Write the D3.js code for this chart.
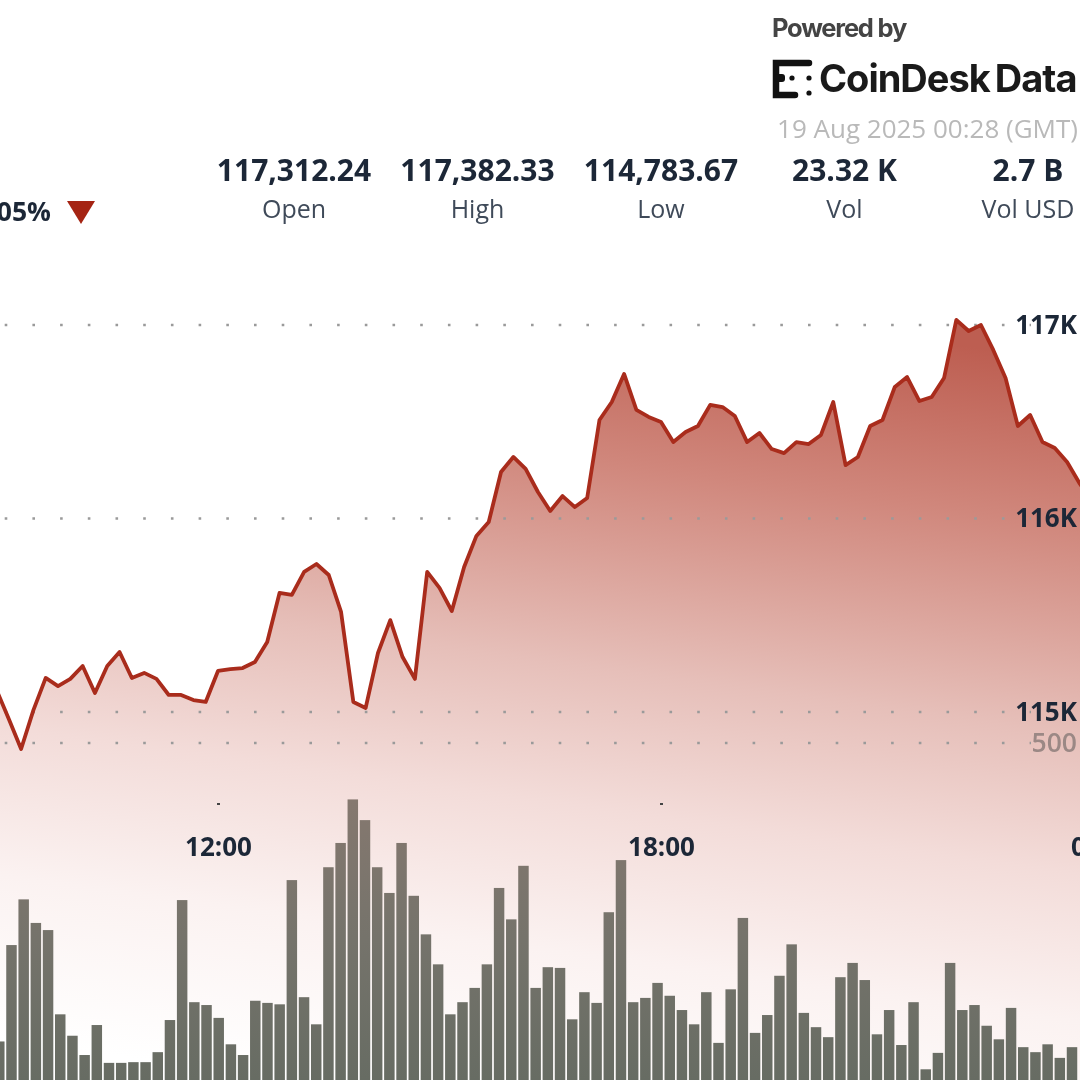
<!DOCTYPE html>
<html>
<head>
<meta charset="utf-8">
<script src="https://cdn.jsdelivr.net/npm/d3@7"></script>
<style>
html, body { margin: 0; padding: 0; background: #fff; overflow: hidden; }
svg { display: block; filter: blur(0.6px); }
text { font-family: "Open Sans", sans-serif; }
</style>
</head>
<body>
<svg id="chart" width="1080" height="1080"></svg>
<script>
// price every 10 minutes, starting 09:00
var startTime = '2025-08-18T09:00:00Z';
var prices = [115114, 114964, 114809, 115010, 115176, 115134, 115171, 115238, 115098, 115238,
	115310, 115176, 115202, 115171, 115088, 115088, 115062, 115052, 115212, 115222,
	115227, 115258, 115362, 115615, 115605, 115724, 115765, 115708, 115517, 115052,
	115021, 115305, 115475, 115284, 115171, 115724, 115641, 115522, 115749, 115910,
	115982, 116240, 116318, 116256, 116137, 116039, 116116, 116059, 116106, 116509,
	116602, 116747, 116561, 116525, 116499, 116395, 116447, 116478, 116587, 116576,
	116530, 116395, 116442, 116359, 116338, 116395, 116385, 116432, 116602, 116276,
	116318, 116478, 116509, 116680, 116731, 116607, 116628, 116726, 117026, 116969,
	117000, 116871, 116726, 116478, 116535, 116395, 116364, 116292, 116183, 116096];

var volumes = [82, 217, 281, 248, 238, 120, 90, 63, 105, 52,
	52, 53, 53, 67, 112, 280, 137, 133, 115, 78,
	63, 139, 136, 134, 308, 144, 106, 326, 360, 421,
	392, 326, 290, 360, 286, 232, 190, 120, 137, 157,
	190, 297, 253, 328, 157, 186, 185, 113, 151, 136,
	263, 336, 137, 143, 164, 146, 126, 106, 151, 80,
	155, 255, 94, 119, 174, 218, 122, 102, 88, 172,
	192, 168, 92, 126, 77, 137, 43, 66, 192, 126,
	133, 104, 85, 129, 74, 67, 78, 59, 74];

var priceTicks = [115000, 116000, 117000];
var volumeTicks = [500];
var timeTicks = ['2025-08-18T12:00:00Z', '2025-08-18T18:00:00Z', '2025-08-19T00:00:00Z'];

var statValues = ['117,312.24', '117,382.33', '114,783.67', '23.32 K', '2.7 B'];
var statLabels = ['Open', 'High', 'Low', 'Vol', 'Vol USD'];

var ink = '#1c2737';
var svg = d3.select('#chart');
var defs = svg.append('defs');

var x = d3.scaleUtc()
	.domain([new Date('2025-08-18T12:00:00Z'), new Date('2025-08-18T18:00:00Z')])
	.range([218, 661]);
var y = d3.scaleLinear().domain([115000, 117000]).range([712, 325]);
var yVol = d3.scaleLinear().domain([0, 500]).range([1100, 743]);
var xVol = d3.scaleBand().domain(d3.range(volumes.length))
	.range([-6.8, 1078.1]).paddingInner(0.14).paddingOuter(0.07);

var series = prices.map(function (p, i) {
	return { t: new Date(+new Date(startTime) + i * 600000), p: p };
});

// area fill, tilted a little so that the right side reads darker
var areaGrad = defs.append('linearGradient').attr('id', 'areaGrad')
	.attr('gradientUnits', 'userSpaceOnUse')
	.attr('x1', 625).attr('y1', 300).attr('x2', 515).attr('y2', 1110);
[[0, '#bd5e51'], [0.2, '#d0877c'], [0.45, '#e6bfb9'], [0.62, '#f3dcd9'], [0.8, '#fbf2f1'], [1, '#ffffff']]
	.forEach(function (s) {
		areaGrad.append('stop').attr('offset', s[0]).attr('stop-color', s[1]);
	});

var barGrad = defs.append('linearGradient').attr('id', 'barGrad')
	.attr('gradientUnits', 'userSpaceOnUse')
	.attr('x1', 0).attr('y1', 800).attr('x2', 0).attr('y2', 1080);
[[0, '#85786f'], [0.5, '#75736b'], [1, '#676c63']].forEach(function (s) {
	barGrad.append('stop').attr('offset', s[0]).attr('stop-color', s[1]);
});

var area = d3.area()
	.x(function (d) { return x(d.t); })
	.y0(1085)
	.y1(function (d) { return y(d.p); });
var line = d3.line()
	.x(function (d) { return x(d.t); })
	.y(function (d) { return y(d.p); });

// dotted grid, one row per price tick and volume tick
var gridRows = priceTicks.map(y).concat(volumeTicks.map(yVol));

svg.append('path').datum(series).attr('d', area).attr('fill', 'url(#areaGrad)');

svg.append('g').selectAll('line').data(gridRows).join('line')
	.attr('x1', 4.7).attr('x2', 1031)
	.attr('y1', function (d) { return d; }).attr('y2', function (d) { return d; })
	.attr('stroke', '#9a9a9a')
	.attr('stroke-width', 2.6)
	.attr('stroke-dasharray', '2.6 25.1');

svg.append('g').selectAll('rect').data(volumes).join('rect')
	.attr('x', function (d, i) { return xVol(i); })
	.attr('width', xVol.bandwidth())
	.attr('y', function (d) { return yVol(d); })
	.attr('height', function (d) { return 1100 - yVol(d); })
	.attr('fill', 'url(#barGrad)');

svg.append('path').datum(series).attr('d', line)
	.attr('fill', 'none')
	.attr('stroke', '#a92c1c')
	.attr('stroke-width', 3.8)
	.attr('stroke-linejoin', 'round');

// axes
var priceAxis = d3.axisRight(y).tickValues(priceTicks).tickSize(0).tickPadding(0)
	.tickFormat(function (d) { return (d / 1000) + 'K'; });
var priceG = svg.append('g').attr('transform', 'translate(1077,0)').call(priceAxis);
priceG.select('.domain').remove();
priceG.selectAll('text')
	.attr('text-anchor', 'end')
	.attr('font-size', 26).attr('font-weight', 700).attr('fill', ink)
	.style('font-family', '"Open Sans", sans-serif');

var volAxis = d3.axisRight(yVol).tickValues(volumeTicks).tickSize(0).tickPadding(0);
var volG = svg.append('g').attr('transform', 'translate(1077,0)').call(volAxis);
volG.select('.domain').remove();
volG.selectAll('text')
	.attr('text-anchor', 'end')
	.attr('font-size', 26.5).attr('font-weight', 600).attr('fill', '#9b8885')
	.style('font-family', '"Open Sans", sans-serif');

var timeAxis = d3.axisBottom(x).tickValues(timeTicks.map(function (d) { return new Date(d); }))
	.tickSize(2).tickPadding(33).tickFormat(d3.utcFormat('%H:%M'));
var timeG = svg.append('g').attr('transform', 'translate(0,803)').call(timeAxis);
timeG.select('.domain').remove();
timeG.selectAll('line').attr('stroke', '#444').attr('stroke-width', 3);
timeG.selectAll('text')
	.attr('font-size', 26).attr('font-weight', 700).attr('fill', ink)
	.style('font-family', '"Open Sans", sans-serif');

// header stats
var statX = d3.scalePoint().domain(statLabels).range([294, 1028]);
svg.append('g').selectAll('text').data(statValues).join('text')
	.attr('x', function (d, i) { return statX(statLabels[i]); })
	.attr('y', 181)
	.attr('text-anchor', 'middle')
	.attr('font-size', 30).attr('font-weight', 700).attr('fill', ink)
	.text(function (d) { return d; });
svg.append('g').selectAll('text').data(statLabels).join('text')
	.attr('x', function (d) { return statX(d); })
	.attr('y', 218)
	.attr('text-anchor', 'middle')
	.attr('font-size', 25).attr('fill', '#3f4a59')
	.text(function (d) { return d; });

svg.append('text').attr('x', 51).attr('y', 221).attr('text-anchor', 'end')
	.attr('font-size', 26.5).attr('font-weight', 700).attr('fill', ink).text('05%');
svg.append('path').attr('d', d3.line()([[67, 201], [95, 201], [81, 224]]) + 'Z').attr('fill', '#a52413');

// branding
svg.append('text').attr('x', 772).attr('y', 37)
	.style('font-family', 'Inter, sans-serif')
	.attr('font-size', 25.5).attr('font-weight', 700).attr('letter-spacing', -1.2).attr('fill', '#444')
	.text('Powered by');
svg.append('text').attr('x', 819).attr('y', 92)
	.style('font-family', 'Inter, sans-serif')
	.attr('font-size', 38).attr('font-weight', 700).attr('letter-spacing', -1).attr('word-spacing', -3)
	.attr('fill', '#1a1a1a')
	.text('CoinDesk Data');
svg.append('text').attr('x', 1078).attr('y', 138).attr('text-anchor', 'end')
	.attr('font-size', 26).attr('fill', '#b9b9b9')
	.text('19 Aug 2025 00:28 (GMT)');

// logo: a heavy bracket with a few loose dots
var logo = svg.append('g').attr('fill', '#111');
logo.append('path')
	.attr('d', d3.line()([[809, 63], [776, 63], [776, 95], [795, 95]]))
	.attr('fill', 'none').attr('stroke', '#111').attr('stroke-width', 6.5).attr('stroke-linecap', 'round');
logo.append('rect').attr('x', 775).attr('y', 74).attr('width', 10).attr('height', 8).attr('rx', 3);
[[792, 78], [809, 78], [809, 93]].forEach(function (d) {
	logo.append('circle').attr('cx', d[0]).attr('cy', d[1]).attr('r', 2.6);
});
</script>
</body>
</html>
